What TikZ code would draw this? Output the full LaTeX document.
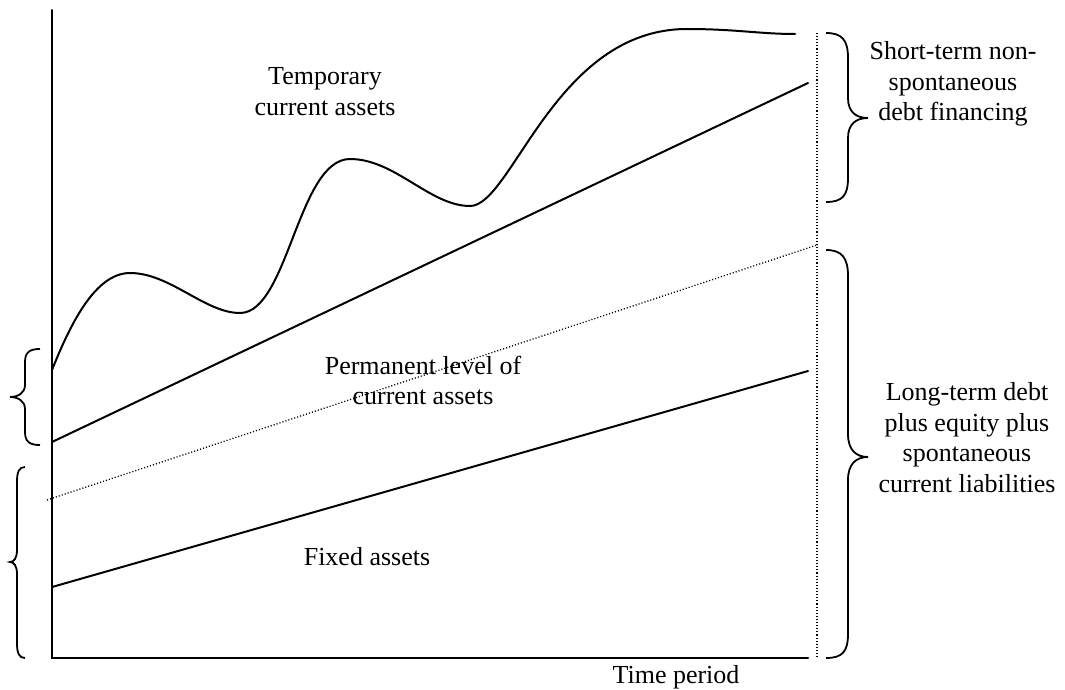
\documentclass[tikz,border=0pt]{standalone}
\usepackage{fontspec}
\setmainfont{Liberation Serif}
\begin{document}
\begin{tikzpicture}[x=1pt,y=-1pt,
  solidline/.style={line width=2pt, line cap=round},
  dotline/.style={line width=1.3pt, dash pattern=on 1.1pt off 2pt},
  bracestyle/.style={line width=1.8pt},
  lbl/.style={font=\fontsize{26}{30.5}\selectfont, align=center, inner sep=0pt}]
\useasboundingbox (0,0) rectangle (1065,690);
% axes
\coordinate (ytop) at (52,10);
\coordinate (origin) at (52,658);
\coordinate (xend) at (808,658);
\draw[solidline] (ytop) -- (origin) -- (xend);
% dotted vertical
\coordinate (vtop) at (817,33);
\coordinate (vbot) at (817,658);
\draw[dotline] (vtop) -- (vbot);
% lines
\coordinate (ua) at (52,442); \coordinate (ub) at (808,83);
\draw[solidline] (ua) -- (ub);
\coordinate (la) at (52,587); \coordinate (lb) at (808,371);
\draw[solidline] (la) -- (lb);
\coordinate (da) at (47,500); \coordinate (db) at (817,245);
\draw[dotline] (da) -- (db);
% wavy curve
\coordinate (w0) at (52,370);
\coordinate (w1) at (130,273);
\coordinate (w2) at (240,313);
\coordinate (w3) at (350,159);
\coordinate (w4) at (470,206);
\coordinate (w5) at (687,29);
\coordinate (w6) at (795,34);
\draw[solidline] (w0) .. controls (70,325) and (95,273) .. (w1)
  .. controls (170,273) and (205,313) .. (w2)
  .. controls (288,313) and (298,159) .. (w3)
  .. controls (395,159) and (430,206) .. (w4)
  .. controls (512,206) and (555,29) .. (w5)
  .. controls (735,29) and (760,34) .. (w6);
% left braces
\draw[bracestyle] (40,349) .. controls (30,349) and (25,352) .. (25,362) -- (25,385)
  .. controls (25,393) and (18,397) .. (10,397)
  .. controls (18,397) and (25,401) .. (25,409) -- (25,432)
  .. controls (25,442) and (30,445) .. (40,445);
\draw[bracestyle] (25,467) .. controls (19,467) and (17,472) .. (17,482) -- (17,550)
  .. controls (17,558) and (14,562) .. (10,562)
  .. controls (14,562) and (17,566) .. (17,574) -- (17,643)
  .. controls (17,653) and (19,658) .. (25,658);
% right braces
\draw[bracestyle] (826,33) .. controls (842,33) and (848,40) .. (848,58) -- (848,98)
  .. controls (848,112) and (856,118) .. (868,118)
  .. controls (856,118) and (848,124) .. (848,138) -- (848,178)
  .. controls (848,196) and (842,202) .. (826,202);
\draw[bracestyle] (826,250) .. controls (842,250) and (848,258) .. (848,276) -- (848,434)
  .. controls (848,450) and (856,457) .. (868,457)
  .. controls (856,457) and (848,464) .. (848,480) -- (848,634)
  .. controls (848,652) and (842,658) .. (826,658);
% labels
\node[lbl] (tca) at (325,91.5) {Temporary\\current assets};
\node[lbl] (pca) at (423,380.5) {Permanent level of\\current assets};
\node[lbl] (fa) at (367,557) {Fixed assets};
\node[lbl] (tp) at (676,677) {Time period};
\node[lbl] (st) at (953,84) {Short-term non-\\spontaneous\\debt financing};
\node[lbl] (lt) at (967,437.5) {Long-term debt\\plus equity plus\\spontaneous\\current liabilities};
\end{tikzpicture}
\end{document}
